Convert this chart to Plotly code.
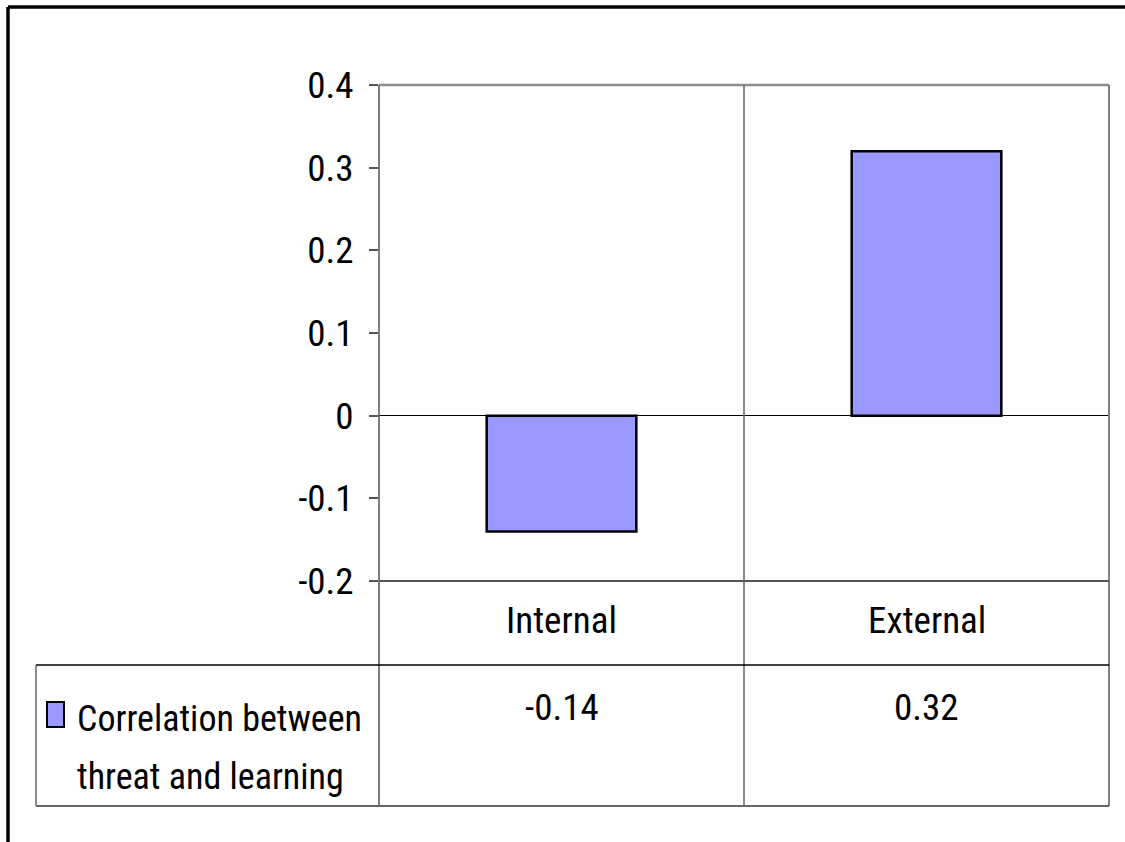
import plotly.graph_objects as go

categories = ["Internal", "External"]
values = [-0.14, 0.32]
value_labels = ["-0.14", "0.32"]
series_lines = ["Correlation between", "threat and learning"]
ytick_vals = [0.4, 0.3, 0.2, 0.1, 0, -0.1, -0.2]
ytick_text = ["0.4", "0.3", "0.2", "0.1", "0", "-0.1", "-0.2"]

W, H = 1125, 842
FONT = "Roboto Condensed, Liberation Sans Narrow, Arial Narrow, sans-serif"
FS = 37
FS_LEG = 36
FILL = "#9999FF"

def px(x):
    return x / W

def py(y):
    return 1 - y / H

PL, PR, PT, PB = 379, 1109, 85, 581
ROW1, TB, TL = 665, 806, 36

fig = go.Figure()
fig.add_trace(go.Bar(
    x=categories, y=values, width=0.41,
    marker=dict(color=FILL, line=dict(color="black", width=2.5)),
    name=" ".join(series_lines), showlegend=False, hoverinfo="skip",
))

fig.update_layout(
    width=W, height=H, margin=dict(l=0, r=0, t=0, b=0, autoexpand=False),
    paper_bgcolor="white", plot_bgcolor="white",
    font=dict(family=FONT, size=FS, color="black"),
    xaxis=dict(domain=[px(PL), px(PR)], range=[-0.5, 1.5], showticklabels=False,
               showgrid=False, zeroline=False, showline=False, ticks="", automargin=False),
    yaxis=dict(domain=[py(PB), py(PT)], range=[-0.2, 0.4], tickvals=ytick_vals,
               ticktext=ytick_text, ticks="outside", ticklen=9, tickwidth=1.5,
               tickcolor="#555555", showgrid=False, zeroline=True,
               zerolinecolor="black", zerolinewidth=1, showline=False, automargin=False,
               ticklabelstandoff=8, tickfont=dict(size=FS, family=FONT)),
)

shapes = []
def line(x0, y0, x1, y1, color, width):
    shapes.append(dict(type="line", xref="paper", yref="paper",
                       x0=px(x0), y0=py(y0), x1=px(x1), y1=py(y1),
                       line=dict(color=color, width=width), layer="above"))

# outer frame (top & left; continues beyond the picture)
line(8, 7, 1140, 7, "black", 3.5)
line(8, 7, 8, 860, "black", 3.5)
# plot area border and axis
line(PL, PT, PR, PT, "#8c8c8c", 2.5)
line(PR, PT, PR, TB, "#808080", 2)
line(PL, PT, PL, TB, "#555555", 1.5)
line(PL, PB, PR, PB, "#555555", 2)
# category divider through plot and table
shapes.append(dict(type="line", xref="x", yref="paper", x0=0.5, x1=0.5,
                   y0=py(TB), y1=py(PT), line=dict(color="#666666", width=1.5)))
# data table rows
line(TL, ROW1, PR, ROW1, "black", 1.5)
line(TL, TB, PR, TB, "#666666", 2)
line(TL, ROW1, TL, TB, "#666666", 1.5)
# legend key
shapes.append(dict(type="rect", xref="paper", yref="paper",
                   x0=px(47), x1=px(64), y0=py(727), y1=py(702),
                   fillcolor=FILL, line=dict(color="black", width=2)))
fig.update_layout(shapes=shapes)

ann = []
for cat in categories:
    ann.append(dict(x=cat, xref="x", y=py(620), yref="paper", text=cat,
                    showarrow=False, font=dict(size=FS, family=FONT),
                    xanchor="center", yanchor="middle"))
for cat, lab in zip(categories, value_labels):
    ann.append(dict(x=cat, xref="x", y=py(707), yref="paper", text=lab,
                    showarrow=False, font=dict(size=FS, family=FONT),
                    xanchor="center", yanchor="middle"))
for i, txt in enumerate(series_lines):
    ann.append(dict(x=px(75), xref="paper", y=py(719 + 58 * i), yref="paper", text=txt,
                    showarrow=False, font=dict(size=FS_LEG, family=FONT), align="left",
                    xanchor="left", yanchor="middle"))
fig.update_layout(annotations=ann)

fig.write_html("out.html")
